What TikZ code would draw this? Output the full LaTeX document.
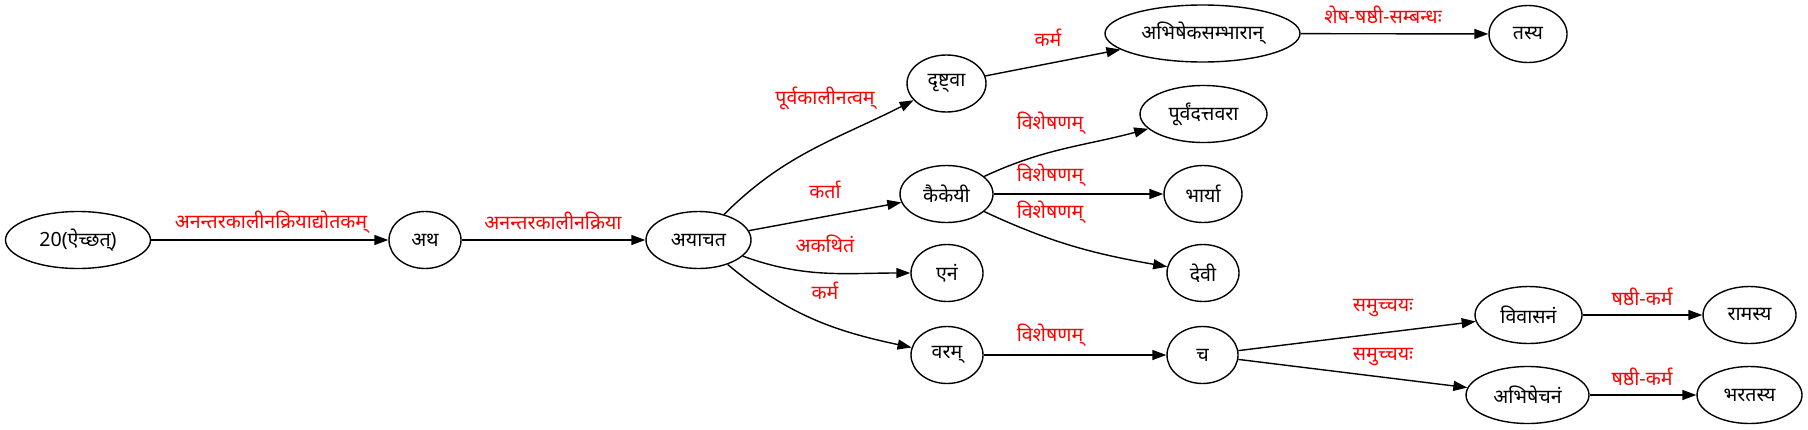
\documentclass[tikz,border=0pt]{standalone}
\usepackage{fontspec}
\setmainfont{Noto Sans}[Script=Devanagari]
\usepackage{tikz}
\usetikzlibrary{arrows.meta,shapes.geometric}
\newcommand{\unitpx}{0.5pt}
\newcommand{\relcolor}{red}
\newcommand{\linew}{0.7pt}

\tikzset{
  word/.style={draw, ellipse, line width=\linew, inner sep=0pt, minimum height=57*\unitpx, font=\fontsize{9.8}{12}\selectfont},
  rel/.style={text=\relcolor, inner sep=0pt, font=\fontsize{9.8}{12}\selectfont},
  dep/.style={-{Triangle[length=7pt,width=5pt]}, line width=\linew},
}

\begin{document}
\begin{tikzpicture}[x=\unitpx, y=\unitpx]
\useasboundingbox (0,0) rectangle (1808,-429);
%words
\node[word, minimum width=145*\unitpx] (aicchat) at (78,-240) {20(ऐच्छत्)};
\node[word, minimum width=72*\unitpx] (atha) at (425,-240) {अथ};
\node[word, minimum width=105*\unitpx] (ayacata) at (698.5,-240) {अयाचत};
\node[word, minimum width=79*\unitpx] (drishtva) at (946.5,-83.5) {दृष्ट्वा};
\node[word, minimum width=195*\unitpx] (sambharan) at (1202.5,-33.5) {अभिषेकसम्भारान्};
\node[word, minimum width=78*\unitpx] (tasya) at (1528,-34) {तस्य};
\node[word, minimum width=93*\unitpx] (kaikeyi) at (946.5,-194) {कैकेयी};
\node[word, minimum width=127*\unitpx] (purvadatta) at (1203.5,-114) {पूर्वंदत्तवरा};
\node[word, minimum width=78*\unitpx] (bharya) at (1203,-194) {भार्या};
\node[word, minimum width=72*\unitpx] (devi) at (1203,-273) {देवी};
\node[word, minimum width=72*\unitpx] (enam) at (947,-273) {एनं};
\node[word, minimum width=72*\unitpx] (varam) at (947,-355) {वरम्};
\node[word, minimum width=71*\unitpx] (ca) at (1202.5,-355) {च};
\node[word, minimum width=107*\unitpx] (vivasanam) at (1528.5,-315) {विवासनं};
\node[word, minimum width=93*\unitpx] (ramasya) at (1749.5,-315) {रामस्य};
\node[word, minimum width=123*\unitpx] (abhishecanam) at (1527.5,-395) {अभिषेचनं};
\node[word, minimum width=105*\unitpx] (bharatasya) at (1749.5,-395) {भरतस्य};
%relations
\node[rel] (l1) at (271,-222) {अनन्तरकालीनक्रियाद्योतकम्};
\node[rel] (l2) at (553,-221) {अनन्तरकालीनक्रिया};
\node[rel] (l3) at (825,-98) {पूर्वकालीनत्वम्};
\node[rel] (l4) at (825,-190) {कर्ता};
\node[rel] (l5) at (825,-244) {अकथितं};
\node[rel] (l6) at (825,-291) {कर्म};
\node[rel] (l7) at (1048,-38) {कर्म};
\node[rel] (l8) at (1383,-15) {शेष-षष्ठी-सम्बन्धः};
\node[rel] (l9) at (1050,-123) {विशेषणम्};
\node[rel] (l10) at (1050,-175) {विशेषणम्};
\node[rel] (l11) at (1050,-212) {विशेषणम्};
\node[rel] (l12) at (1050,-335) {विशेषणम्};
\node[rel] (l13) at (1383,-308) {समुच्चयः};
\node[rel] (l14) at (1383,-357) {समुच्चयः};
\node[rel] (l15) at (1642,-297) {षष्ठी-कर्म};
\node[rel] (l16) at (1642,-377) {षष्ठी-कर्म};
%edges
\draw[dep] (aicchat) -- (atha);
\draw[dep] (atha) -- (ayacata);
\draw[dep] (ayacata) to[out=45,in=207] (drishtva);
\draw[dep] (ayacata) -- (kaikeyi);
\draw[dep] (ayacata) to[out=-20,in=180] (enam);
\draw[dep] (ayacata) to[out=-40,in=168] (varam);
\draw[dep] (drishtva) -- (sambharan);
\draw[dep] (sambharan) -- (tasya);
\draw[dep] (kaikeyi) to[out=25,in=195] (purvadatta);
\draw[dep] (kaikeyi) -- (bharya);
\draw[dep] (kaikeyi) to[out=-25,in=170] (devi);
\draw[dep] (varam) -- (ca);
\draw[dep] (ca) -- (vivasanam);
\draw[dep] (ca) -- (abhishecanam);
\draw[dep] (vivasanam) -- (ramasya);
\draw[dep] (abhishecanam) -- (bharatasya);
\end{tikzpicture}
\end{document}
